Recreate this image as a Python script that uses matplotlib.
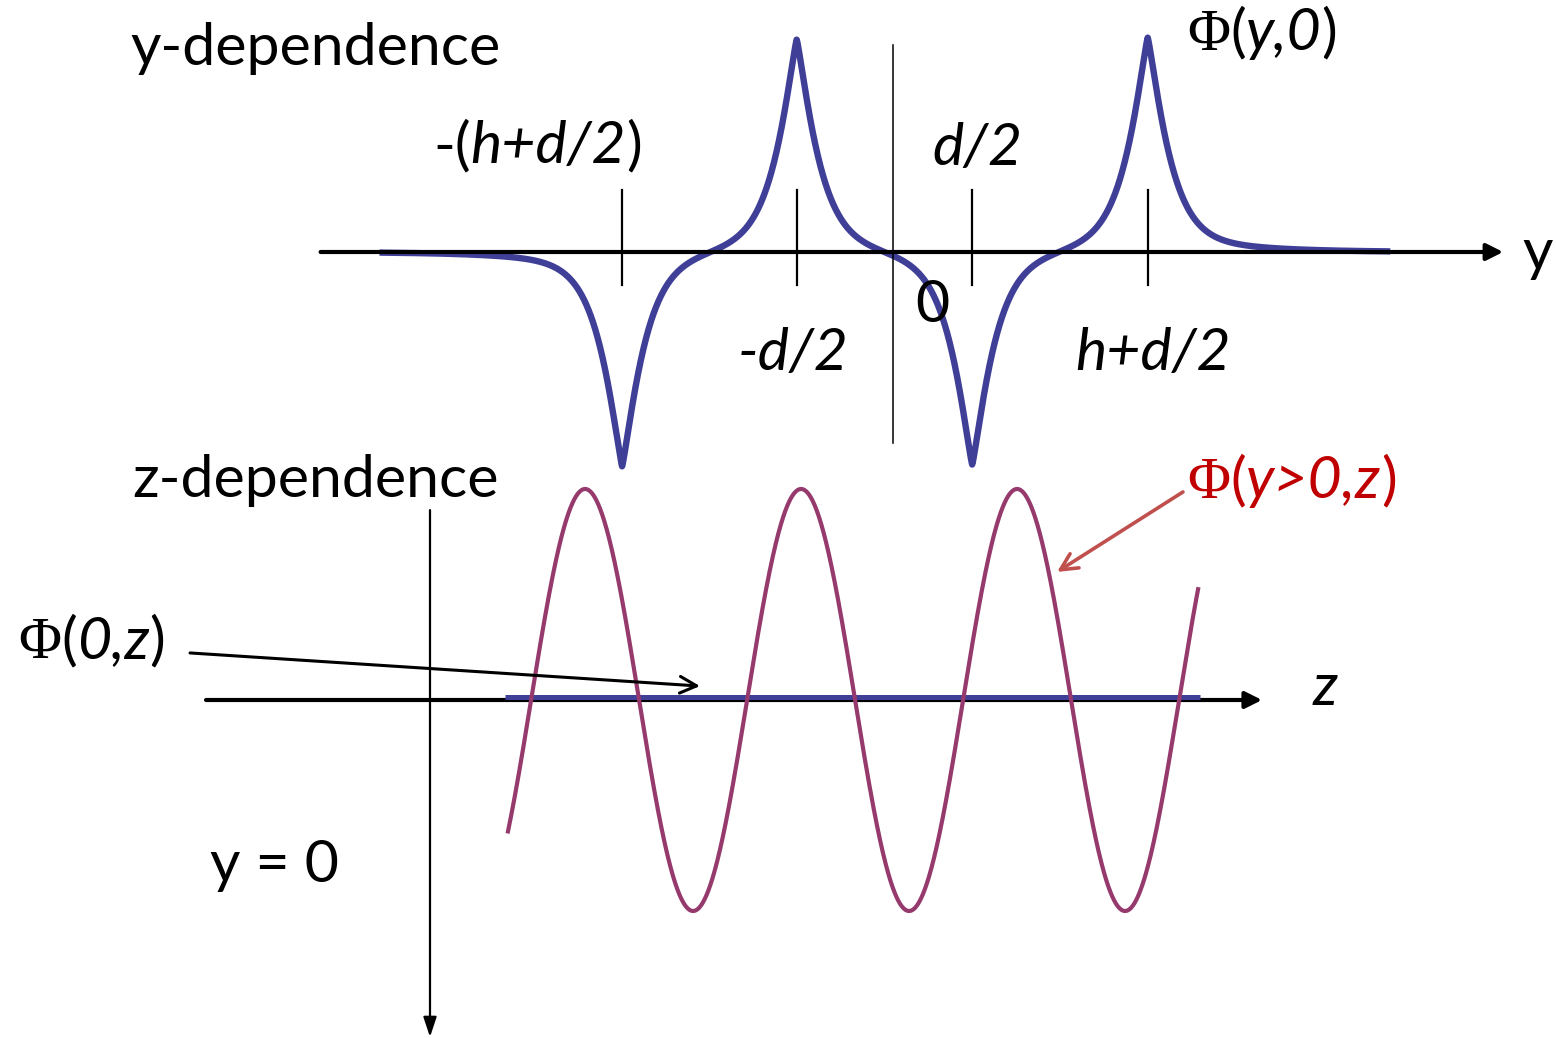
import numpy as np
import matplotlib.pyplot as plt
from matplotlib.transforms import offset_copy

SANS = ['Lato', 'DejaVu Sans']
SERIF = ['Liberation Serif', 'DejaVu Serif']
FS = 42.5

# y-dependence: cusp positions on the y axis, their labels and signs
y_marks = [-3.01, -1.07, 0.88, 2.83]
y_mark_labels = ['-(h+d/2)', '-d/2', 'd/2', 'h+d/2']
peak_sign = [-1, 1, -1, 1]
peak_amp = 1.02
y_range = [-5.67, 5.49]

# z-dependence: oscillation of Phi(y>0, z) and the flat Phi(0, z)
z_period = 1.0
z_first_max = 0.718
z_amp = 1.0
z_range = [0.361, 3.556]
flat_range = [0.347, 3.565]
flat_level = 0.014


def cusp(u, u0):
    r = np.abs(u - u0)
    return 0.87 * np.exp(-(r / 0.267) ** 1.2) + 0.13 * np.exp(-r / 0.72)


fig = plt.figure(figsize=(15.56, 10.38), dpi=100)
ax = fig.add_axes([0, 0, 1, 1])
ax.set_xlim(-893 / 90, 663 / 90)
ax.set_ylim((252 - 1038) / 212, 252 / 212)
ax.axis('off')

ax2 = fig.add_axes([0, 0, 1, 1])
ax2.set_xlim(-430 / 216, 1126 / 216)
ax2.set_ylim((700 - 1038) / 211, 700 / 211)
ax2.axis('off')
ax2.patch.set_alpha(0)

renderer = fig.canvas.get_renderer()


def rich_text(a, x, y, parts, color='black'):
    # draws pieces of one label side by side on a common baseline
    dx = 0
    for s, kind in parts:
        fam = SERIF if kind == 'phi' else SANS
        style = 'italic' if kind == 'it' else 'normal'
        tr = offset_copy(a.transData, fig=fig, x=dx, y=0, units='dots')
        t = a.text(x, y, s, transform=tr, fontsize=FS, family=fam,
                   style=style, color=color, va='baseline', ha='left')
        dx += t.get_window_extent(renderer).width


blue = '#403f98'
purple = '#963a6e'

# ---- top: y-dependence ----
u = np.linspace(y_range[0], y_range[1], 4000)
phi_y = sum(s * peak_amp * cusp(u, m) for s, m in zip(peak_sign, y_marks))
ax.plot(u, phi_y, color=blue, lw=4.6, zorder=2)

ax.annotate('', xy=(6.78, 0), xytext=(-6.36, 0),
            arrowprops=dict(arrowstyle='-|>,head_length=0.5,head_width=0.25',
                            mutation_scale=20, lw=3, color='black',
                            shrinkA=0, shrinkB=0), zorder=3)
ax.plot([0, 0], [0.976, -0.90], color='black', lw=1.1, zorder=3)
for m in y_marks:
    ax.plot([m, m], [0.292, -0.156], color='black', lw=1.6, zorder=3)

rich_text(ax, -8.478, 0.882, [('y-dependence', 'rm')])
rich_text(ax, 3.267, 0.953, [('Φ', 'phi'), ('(', 'rm'), ('y,0', 'it'), (')', 'rm')])
rich_text(ax, -5.111, 0.42, [('-(', 'rm'), ('h+d/2', 'it'), (')', 'rm')])
rich_text(ax, 0.433, 0.41, [('d/2', 'it')])
rich_text(ax, 0.244, -0.33, [('0', 'rm')])
rich_text(ax, -1.722, -0.557, [('-d/2', 'it')])
rich_text(ax, 2.022, -0.557, [('h+d/2', 'it')])
rich_text(ax, 6.989, -0.085, [('y', 'rm')])

# ---- bottom: z-dependence ----
z = np.linspace(z_range[0], z_range[1], 2000)
phi_z = z_amp * np.cos(2 * np.pi * (z - z_first_max) / z_period)

ax2.annotate('', xy=(3.852, 0), xytext=(-1.037, 0),
             arrowprops=dict(arrowstyle='-|>,head_length=0.5,head_width=0.25',
                             mutation_scale=20, lw=3, color='black',
                             shrinkA=0, shrinkB=0), zorder=2)
ax2.annotate('', xy=(0, -1.597), xytext=(0, 0.90),
             arrowprops=dict(arrowstyle='-|>,head_length=0.6,head_width=0.2',
                             mutation_scale=20, lw=1.6, color='black',
                             shrinkA=0, shrinkB=0), zorder=2)
ax2.plot(flat_range, [flat_level, flat_level], color=blue, lw=3.6,
         solid_capstyle='butt', zorder=3)
ax2.plot(z, phi_z, color=purple, lw=3.0, zorder=4)

ax2.annotate('', xy=(1.25, 0.066), xytext=(-1.111, 0.223),
             arrowprops=dict(arrowstyle='->,head_length=0.6,head_width=0.3',
                             mutation_scale=20, lw=2.2, color='black',
                             shrinkA=0, shrinkB=0), zorder=5)
ax2.annotate('', xy=(2.903, 0.607), xytext=(3.486, 0.986),
             arrowprops=dict(arrowstyle='->,head_length=0.6,head_width=0.3',
                             mutation_scale=20, lw=2.6, color='#c0504d',
                             shrinkA=0, shrinkB=0), zorder=5)

rich_text(ax2, -1.380, 0.962, [('z-dependence', 'rm')])
rich_text(ax2, 3.505, 0.957, [('Φ', 'phi'), ('(', 'rm'), ('y>0,z', 'it'), (')', 'rm')],
          color='#c00000')
rich_text(ax2, -1.907, 0.199, [('Φ', 'phi'), ('(', 'rm'), ('0,z', 'it'), (')', 'rm')])
rich_text(ax2, 4.088, -0.024, [('z', 'it')])
rich_text(ax2, -1.019, -0.863, [('y = 0', 'rm')])

fig.savefig('out.png', dpi=100)
